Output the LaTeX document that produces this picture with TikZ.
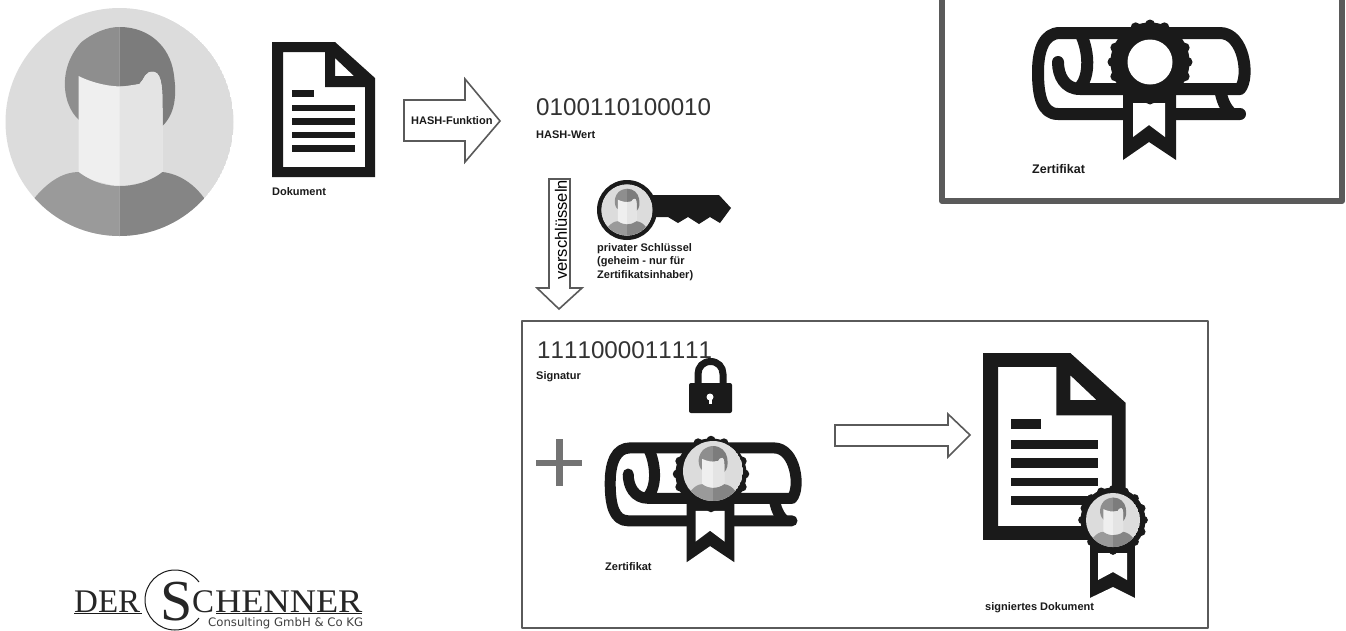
\documentclass[tikz,border=0pt]{standalone}
\usepackage{fontspec}
\setmainfont{Liberation Sans}
\newfontfamily\logofont{Liberation Serif}
\newfontfamily\logosubfont{DejaVu Sans}
\newfontfamily\bitsfont[Kerning=Off]{Liberation Sans}
\definecolor{inkblack}{HTML}{1A1A1A}
\definecolor{framegray}{HTML}{5A5A5A}
\definecolor{skin}{HTML}{EFEFEF}
\definecolor{skinshade}{HTML}{E4E4E4}
\definecolor{halo}{HTML}{DCDCDC}
\definecolor{hair}{HTML}{8E8E8E}
\definecolor{hairdark}{HTML}{7C7C7C}
\definecolor{shirt}{HTML}{9A9A9A}
\definecolor{shirtdark}{HTML}{858585}
\tikzset{
  labeltext/.style={font=\bfseries\fontsize{11}{13.5}\selectfont,text=inkblack,anchor=west,inner sep=0pt,align=left},
  bitstext/.style={font=\bitsfont\fontsize{24.2}{26}\selectfont,text=black!80,anchor=west,inner sep=0pt},
  blockarrow/.style={fill=white,draw=framegray,line width=1.6pt,line join=miter},
  logotext/.style={font=\logofont\fontsize{33}{33}\selectfont,text=black!85,inner sep=0pt,anchor=base west},
  % person, centred, radius 114 before scaling
  pics/person/.style={code={
    \begin{scope}
      \clip (0,0) circle (114);
      \fill[halo] (0,0) circle (114);
      \fill[hair] (-32,3) .. controls (-55,-5) and (-66,-50) .. (-38,-80)
        .. controls (-25,-90) and (-12,-95) .. (0,-95) -- (0,3) -- cycle;
      \fill[hairdark] (0,-95) .. controls (30,-95) and (50,-75) .. (54,-50)
        .. controls (58,-25) and (55,-8) .. (43,4) -- (0,3) -- cycle;
      \fill[skin] (-41,-46) .. controls (-25,-38) and (0,-32) .. (20,-38)
        .. controls (25,-42) and (25,-52) .. (35,-50) .. controls (43,-48) and (43,-30) .. (43,-10)
        -- (43,55) -- (0,65) -- (-41,55) -- cycle;
      \fill[skinshade] (0,-35) -- (20,-38) .. controls (25,-42) and (25,-52) .. (35,-50)
        .. controls (43,-48) and (43,-30) .. (43,-10) -- (43,55) -- (0,65) -- cycle;
      \fill[shirt] (-85,76) .. controls (-70,58) and (-55,50) .. (-41,50)
        .. controls (-25,62) and (-10,64) .. (0,64) -- (0,120) -- (-85,120) -- cycle;
      \fill[shirtdark] (0,64) .. controls (15,64) and (30,60) .. (43,50)
        .. controls (60,52) and (75,62) .. (86,78) -- (86,120) -- (0,120) -- cycle;
    \end{scope}
  }},
  % document, top left corner at the origin
  pics/docicon/.style={code={
    \fill[inkblack,even odd rule] (0,0) -- (63,0) -- (103,36) -- (103,135) -- (0,135) -- cycle
      (11,10) -- (53,10) -- (53,45) -- (93,45) -- (93,125) -- (11,125) -- cycle
      (63,16) -- (82,34) -- (63,34) -- cycle;
    \foreach \ya/\yb/\xb in {48/55/42,63/69/83,76/83/83,90/96/83,103/110/83}{
      \fill[inkblack] (20,\ya) rectangle (\xb,\yb);
    }
  }},
  % rosette, centred
  pics/rosette/.style={code={
    \fill[inkblack] (0,0) circle (39.5);
    \foreach \a in {0,22.5,...,337.5}{
      \fill[inkblack] (\a:37.5) circle (5);
    }
  }},
  % scroll, origin at the centre of the rosette, stroke width as argument
  pics/certicon/.style={code={
    \draw[inkblack,line width=#1,line cap=round,line join=round]
      (-92,0) .. controls (-92,14) and (-85,27) .. (-70,27) -- (90,27)
      .. controls (100,15) and (94,-29) .. (70,-29) -- (-90,-29)
      .. controls (-105,-29) and (-112,-14) .. (-112,10)
      .. controls (-112,34) and (-108,52) .. (-92,52) -- (90,52);
    \draw[inkblack,line width=#1] (-70,-29) .. controls (-62,-15) and (-58,15) .. (-72,27);
    \draw[inkblack,line width=#1] (70,27) .. controls (72,38) and (75,46) .. (82,52);
    \fill[inkblack] (-27,30) -- (26,30) -- (26,98) -- (-1,80) -- (-27,98) -- cycle;
    \fill[white] (-17,41) -- (15,41) -- (15,75) -- (-1,63) -- (-17,75) -- cycle;
    \pic[transform shape] {rosette};
  }}
}
\begin{document}
\begin{tikzpicture}[x=1pt,y=-1pt,line join=round]
  \useasboundingbox (0,0) rectangle (1346,630);
  \fill[white] (0,0) rectangle (1346,630);

  % ---- owner and document ----
  \pic at (119.5,122) {person};
  \pic at (272,42) {docicon};
  \node[labeltext] (doclabel) at (272,192) {Dokument};

  % ---- hash step ----
  \draw[blockarrow] (404,100) -- (465,100) -- (465,79) -- (500,121) -- (465,162) -- (465,141) -- (404,141) -- cycle;
  \node[labeltext] (hashfunc) at (411,121) {HASH-Funktion};
  \node[bitstext] (hashbits) at (536,107) {0100110100010};
  \node[labeltext] (hashlabel) at (536,135) {HASH-Wert};

  % ---- encrypt step ----
  \draw[blockarrow] (549,179) -- (570,179) -- (570,288) -- (582,288) -- (559,309) -- (537,288) -- (549,288) -- cycle;
  \node[rotate=90,inner sep=0pt,text=black,font=\fontsize{16.5}{18}\selectfont] (encrypt) at (561,230) {verschlüsseln};

  % key
  \fill[inkblack] (650,195) -- (719,195) -- (731,208) -- (720,223) -- (710,217) -- (699,224)
    -- (688,217) -- (678,223) -- (668,217) -- (650,217) -- cycle;
  \fill[inkblack] (627,210) circle (30);
  \fill[white] (627,210) circle (25.5);
  \pic[scale=0.224] at (627,210) {person};
  \node[labeltext] (keylabel) at (597,262) {privater Schlüssel\\(geheim - nur für\\Zertifikatsinhaber)};

  % ---- certificate box, top right ----
  \draw[framegray,line width=6pt,fill=white] (942,-10) rectangle (1342,201);
  \pic at (1150,62) {certicon=12};
  \fill[white] (1150,62) circle (22.5);
  \node[labeltext,font=\bfseries\fontsize{12.5}{14}\selectfont] (certlabel) at (1032,169) {Zertifikat};

  % ---- result box ----
  \draw[framegray,line width=1.5pt] (522,321) rectangle (1208,628);
  \node[bitstext] (sigbits) at (537,350) {1111000011111};
  \node[labeltext] (siglabel) at (536,377) {Signatur};

  % lock
  \draw[inkblack,line width=7pt] (698,386) -- (698,374) .. controls (698,367) and (703,361.5) .. (710.5,361.5)
    .. controls (718,361.5) and (723,367) .. (723,374) -- (723,386);
  \fill[inkblack,rounded corners=2pt] (689,383) rectangle (732,413);
  \fill[white] (710,397) circle (3.5);
  \fill[white] (708.5,397) rectangle (711.5,404);

  % plus
  \fill[framegray!85] (536,460) rectangle (582,466);
  \fill[framegray!85] (556,439) rectangle (563,486);

  % certificate with photo
  \pic[scale=0.9] at (711,474) {certicon=11};
  \pic[scale=0.263] at (713,471) {person};
  \node[labeltext] (certlabelb) at (605,567) {Zertifikat};

  % arrow to signed document
  \draw[blockarrow] (835,425) -- (948,425) -- (948,414) -- (970,435) -- (948,457) -- (948,446) -- (835,446) -- cycle;

  % signed document
  \pic[scale=1.385] at (983,353) {docicon};
  \fill[inkblack] (1090,540) rectangle (1135,598);
  \fill[white] (1090,598) -- (1113,587) -- (1135,598) -- cycle;
  \fill[white] (1098,553) -- (1127,553) -- (1127,580) -- (1113,572) -- (1098,580) -- cycle;
  \pic[scale=0.82] at (1113,520) {rosette};
  \pic[scale=0.237] at (1113,520) {person};
  \node[labeltext] (signedlabel) at (985,608) {signiertes Dokument};

  % ---- logo ----
  \node[logotext] (logoder) at (74,612) {DER};
  \draw[inkblack,line width=0.6pt] (74,613.5) -- (142,613.5);
  \draw[inkblack,line width=1pt] (199,582) .. controls (193,574) and (184,570) .. (175,570)
    .. controls (158.5,570) and (145,583.5) .. (145,600)
    .. controls (145,616.5) and (158.5,630) .. (175,630)
    .. controls (184,630) and (193,626) .. (199,618);
  \node[logotext,font=\logofont\fontsize{58}{58}\selectfont] (logos) at (160,620) {S};
  \node[logotext] (logoc) at (192,612) {C};
  \node[logotext,xscale=1.1,transform shape] (logorest) at (215,612) {HENNER};
  \draw[inkblack,line width=0.6pt] (216,613.5) -- (362,613.5);
  \node[labeltext,font=\logosubfont\fontsize{11.7}{13}\selectfont,text=black!75] (logosub) at (208,623) {Consulting GmbH \& Co KG};
\end{tikzpicture}
\end{document}
